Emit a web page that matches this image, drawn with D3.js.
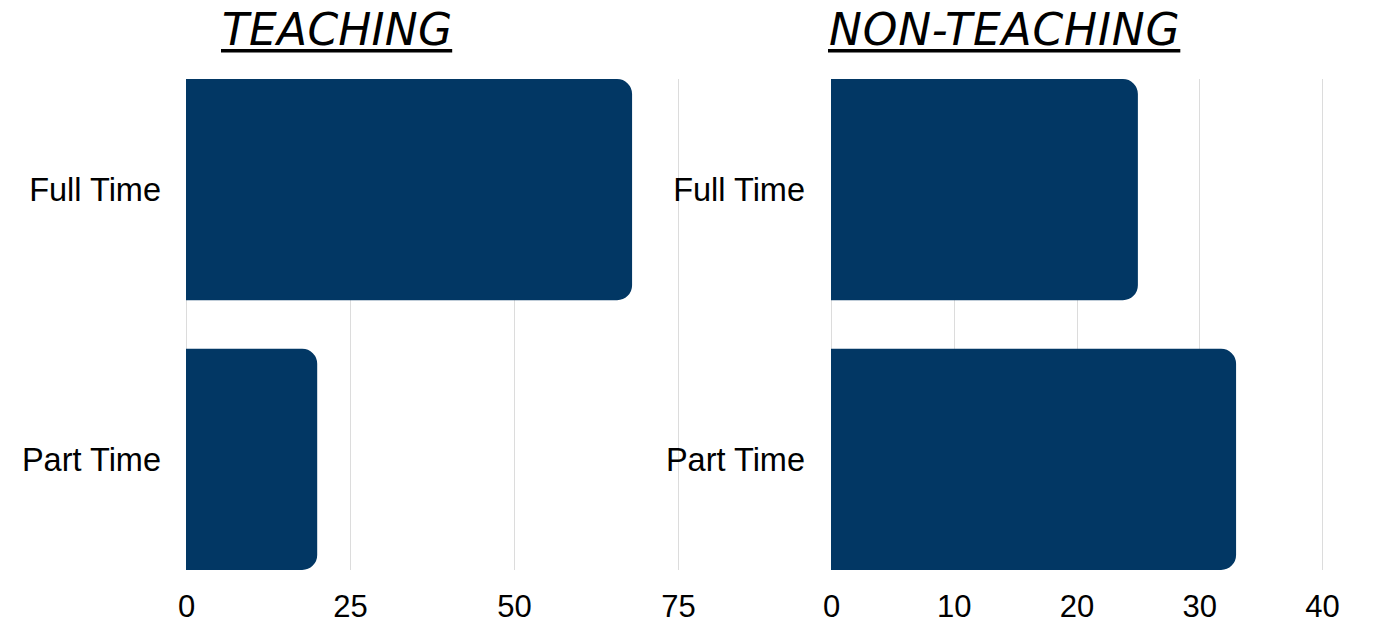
<!DOCTYPE html>
<html>
<head>
<meta charset="utf-8">
<script src="https://cdn.jsdelivr.net/npm/d3@7"></script>
<style>
  html, body { margin: 0; padding: 0; background: #fff; }
  svg { display: block; }
</style>
</head>
<body>
<svg id="chart" width="1375" height="626"></svg>
<script>
// Staff counts by employment type
const categories = ["Full Time", "Part Time"];
const teachingValues = [68, 20];
const nonTeachingValues = [25, 33];
const teachingTicks = [0, 25, 50, 75];
const nonTeachingTicks = [0, 10, 20, 30, 40];
const titles = ["TEACHING", "NON-TEACHING"];

const svg = d3.select("#chart");
const barColor = "#023764";
const gridColor = "#dcdcdc";
const labelFont = "'Liberation Sans', Arial, sans-serif";
const titleFont = "'DejaVu Sans', 'Noto Sans', sans-serif";

const panels = [
  { title: titles[0], values: teachingValues, ticks: teachingTicks,
    x0: 186, x1: 678, titleX: 222, titleSpacing: 0.2, labelX: 161 },
  { title: titles[1], values: nonTeachingValues, ticks: nonTeachingTicks,
    x0: 831, x1: 1322, titleX: 829, titleSpacing: 0.8, labelX: 805 }
];

const plotTop = 79, plotBottom = 570, radius = 15;

// Bar shape: square on the left, rounded on the right
function barPath(x0, x1, y0, y1, r) {
  const rr = Math.min(r, (x1 - x0) / 2, (y1 - y0) / 2);
  return `M${x0},${y0}H${x1 - rr}A${rr},${rr} 0 0 1 ${x1},${y0 + rr}` +
         `V${y1 - rr}A${rr},${rr} 0 0 1 ${x1 - rr},${y1}H${x0}Z`;
}

panels.forEach(p => {
  const x = d3.scaleLinear()
    .domain([p.ticks[0], p.ticks[p.ticks.length - 1]])
    .range([p.x0, p.x1]);
  const y = d3.scaleBand()
    .domain(categories)
    .range([plotTop, plotBottom])
    .paddingInner(0.18)
    .paddingOuter(0);

  const g = svg.append("g");

  // vertical gridlines
  g.selectAll("line.grid")
    .data(p.ticks)
    .join("line")
    .attr("class", "grid")
    .attr("x1", d => Math.round(x(d)) + 0.5)
    .attr("x2", d => Math.round(x(d)) + 0.5)
    .attr("y1", plotTop)
    .attr("y2", plotBottom)
    .attr("stroke", gridColor)
    .attr("stroke-width", 1);

  // bars
  g.selectAll("path.bar")
    .data(categories.map((c, i) => ({ c, v: p.values[i] })))
    .join("path")
    .attr("class", "bar")
    .attr("fill", barColor)
    .attr("d", d => barPath(x(0), x(d.v), y(d.c), y(d.c) + y.bandwidth(), radius));

  // x axis tick labels
  const xAxis = d3.axisBottom(x).tickValues(p.ticks).tickSize(0).tickPadding(0).tickFormat(d3.format("d"));
  const ax = g.append("g").attr("transform", `translate(0,${plotBottom + 25})`).call(xAxis);
  ax.select(".domain").remove();
  ax.selectAll("text")
    .attr("font-family", labelFont)
    .attr("font-size", 31)
    .attr("fill", "#000")
    .attr("dy", "0.71em");

  // category labels
  const yAxis = d3.axisLeft(y).tickSize(0).tickPadding(0);
  const ay = g.append("g").attr("transform", `translate(${p.labelX},1)`).call(yAxis);
  ay.select(".domain").remove();
  ay.selectAll("text")
    .attr("font-family", labelFont)
    .attr("font-size", 32.5)
    .attr("fill", "#000");

  // panel title, italic and underlined
  const t = svg.append("text")
    .attr("x", p.titleX)
    .attr("y", 45)
    .attr("font-family", titleFont)
    .attr("font-style", "italic")
    .attr("font-size", 44)
    .attr("letter-spacing", p.titleSpacing)
    .attr("fill", "#000")
    .text(p.title);
  const w = t.node().getBBox().width;
  svg.append("rect")
    .attr("x", p.titleX - 1)
    .attr("y", 49)
    .attr("width", w + 1)
    .attr("height", 3.5)
    .attr("fill", "#000");
});
</script>
</body>
</html>
